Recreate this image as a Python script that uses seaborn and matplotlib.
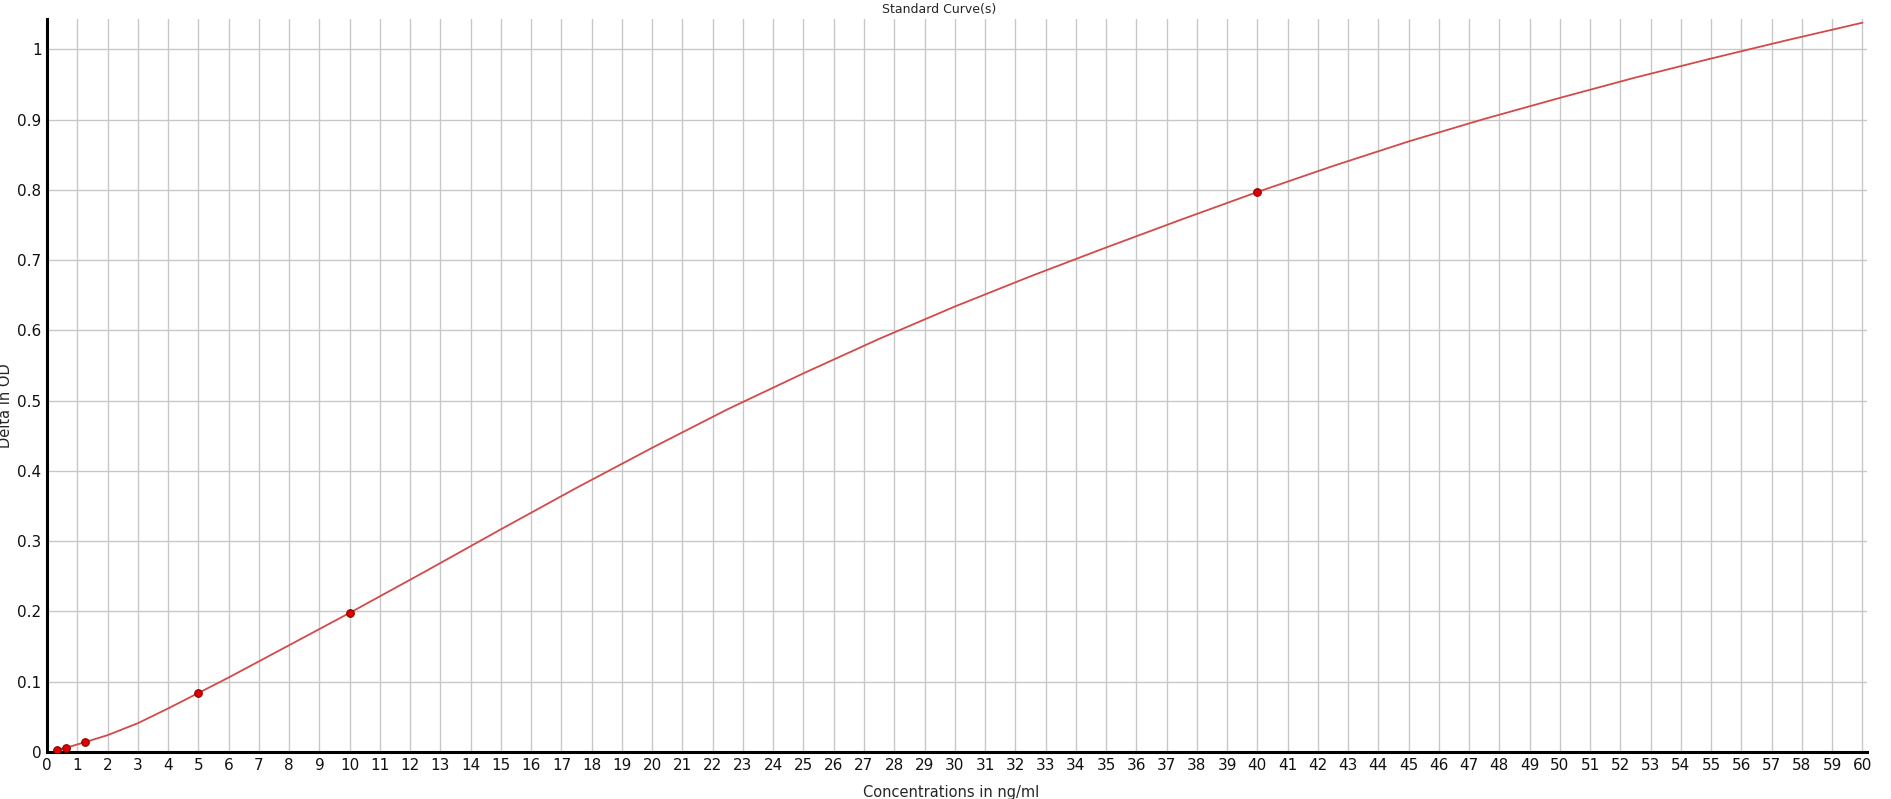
import seaborn as sns
import matplotlib.pyplot as plt
import pandas as pd

# standard points (concentration, delta OD)
std_conc = [0.3125, 0.625, 1.25, 5, 10, 40]
std_od = [0.003, 0.006, 0.014, 0.084, 0.198, 0.797]

# fitted curve
curve_conc = [0.3125, 0.625, 1.25, 2, 3, 4, 5, 6, 7, 8, 9, 10, 12.5, 15, 17.5,
              20, 22.5, 25, 27.5, 30, 32.5, 35, 37.5, 40, 42.5, 45, 47.5, 50,
              52.5, 55, 57.5, 60]
curve_od = [0.003, 0.006, 0.014, 0.024, 0.041, 0.062, 0.084, 0.106, 0.129, 0.152,
            0.175, 0.198, 0.257, 0.317, 0.376, 0.433, 0.488, 0.539, 0.588, 0.634,
            0.677, 0.718, 0.758, 0.797, 0.834, 0.869, 0.901, 0.931, 0.960, 0.987,
            1.013, 1.038]

x_ticks = list(range(0, 61))
y_ticks = [0, 0.1, 0.2, 0.3, 0.4, 0.5, 0.6, 0.7, 0.8, 0.9, 1]
y_tick_labels = ["0", "0.1", "0.2", "0.3", "0.4", "0.5", "0.6", "0.7", "0.8", "0.9", "1"]

curve = pd.DataFrame({"conc": curve_conc, "od": curve_od})
points = pd.DataFrame({"conc": std_conc, "od": std_od})

sns.set_style("white")
plt.rcParams['font.family'] = ['DejaVu Sans']

fig = plt.figure(figsize=(18.91, 7.99), dpi=100)
ax = fig.add_axes([0.0249, 0.0588, 0.9624, 0.9172])

sns.lineplot(data=curve, x="conc", y="od", ax=ax, color="#d24a4a", linewidth=1.3)
sns.scatterplot(data=points, x="conc", y="od", ax=ax, color="#e00000",
                edgecolor="#8a0000", linewidth=0.8, s=30, zorder=5)

ax.set_xlim(0, 60.15)
ax.set_ylim(0, 1.043)
ax.set_xticks(x_ticks)
ax.set_xticklabels([str(t) for t in x_ticks])
ax.set_yticks(y_ticks)
ax.set_yticklabels(y_tick_labels)
ax.tick_params(axis="both", labelsize=11, length=0, pad=4, colors="#111111")

ax.grid(True, color="#c8c8c8", linewidth=1.0)
ax.set_axisbelow(True)

sns.despine(ax=ax)
ax.spines["left"].set_linewidth(2.2)
ax.spines["bottom"].set_linewidth(2.2)
ax.spines["left"].set_color("black")
ax.spines["bottom"].set_color("black")

ax.set_xlabel("Concentrations in ng/ml", fontsize=10.5)
ax.set_ylabel("Delta in OD", fontsize=10.5)
ax.xaxis.set_label_coords(0.497, -0.045)
ax.yaxis.set_label_coords(-0.0185, 0.472)

fig.text(939 / 1891, 1 - 9 / 799, "Standard Curve(s)", ha="center", va="center",
         fontsize=9)

fig.savefig("out.png", dpi=100)
